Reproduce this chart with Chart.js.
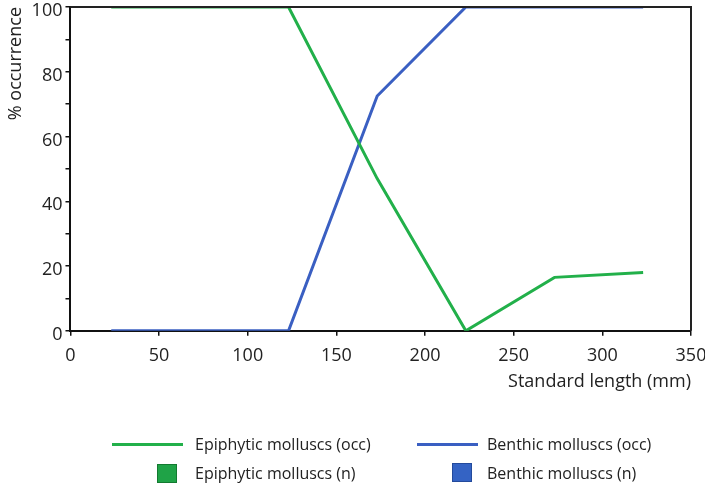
<!DOCTYPE html>
<html>
<head>
<meta charset="utf-8">
<script src="https://cdn.jsdelivr.net/npm/chart.js@4"></script>
<style>
  html, body { margin: 0; padding: 0; background: #fff; }
  #wrap { position: relative; width: 705px; height: 489px; }
  #c { position: absolute; left: 0; top: 0; }
  .lg { position: absolute; font-family: "Open Sans", sans-serif; font-size: 16px; line-height: 20px; color: #222; white-space: nowrap; }
  .ln { position: absolute; height: 3px; }
  .sq { position: absolute; width: 20px; height: 19px; box-sizing: border-box; }
</style>
</head>
<body>
<div id="wrap">
  <canvas id="c" width="705" height="489"></canvas>
  <div class="ln" style="left:112px;top:443px;width:71px;background:#22b04a;"></div>
  <div class="lg" style="left:195px;top:434px;">Epiphytic molluscs (occ)</div>
  <div class="ln" style="left:417px;top:443px;width:61px;background:#3a5fc2;"></div>
  <div class="lg" style="left:487px;top:434px;">Benthic molluscs (occ)</div>
  <div class="sq" style="left:157px;top:464px;background:#1fa347;border:1px solid #137a30;"></div>
  <div class="lg" style="left:195px;top:463px;">Epiphytic molluscs (n)</div>
  <div class="sq" style="left:452px;top:463px;background:#3463c4;border:1px solid #234a9c;"></div>
  <div class="lg" style="left:487px;top:463px;">Benthic molluscs (n)</div>
</div>
<script>
const lengths = [23, 123, 173, 223, 273, 323];
const epiphyticOcc = [100, 100, 47, 0, 16.5, 18];
const benthicOcc = [0, 0, 72.5, 100, 100, 100];
const yTickLabels = [0, 20, 40, 60, 80, 100];
const xTickLabels = [0, 50, 100, 150, 200, 250, 300, 350];

const boxPlugin = {
  id: 'box',
  afterDraw(chart) {
    const { ctx, chartArea: a } = chart;
    ctx.save();
    ctx.strokeStyle = '#222';
    ctx.lineWidth = 2;
    ctx.beginPath();
    ctx.moveTo(a.left, a.top);
    ctx.lineTo(a.right, a.top);
    ctx.lineTo(a.right, a.bottom);
    ctx.stroke();
    ctx.restore();
  }
};

const toPts = (xs, ys) => xs.map((x, i) => ({ x, y: ys[i] }));
const F = { family: 'Open Sans', size: 18 };

new Chart(document.getElementById('c'), {
  type: 'line',
  data: {
    datasets: [
      { label: 'Epiphytic molluscs (occ)', data: toPts(lengths, epiphyticOcc), borderColor: '#22b04a', borderWidth: 3, pointRadius: 0, fill: false, tension: 0 },
      { label: 'Benthic molluscs (occ)', data: toPts(lengths, benthicOcc), borderColor: '#3a5fc2', borderWidth: 3, pointRadius: 0, fill: false, tension: 0 }
    ]
  },
  options: {
    responsive: false,
    animation: false,
    layout: { padding: { top: 7, right: 14, bottom: 96, left: 5 } },
    plugins: { legend: { display: false }, tooltip: { enabled: false } },
    scales: {
      x: {
        type: 'linear', min: 0, max: 350,
        afterBuildTicks: (s) => { s.ticks = xTickLabels.map(v => ({ value: v })); },
        afterFit: (s) => { s.paddingRight = 0; s.paddingLeft = 0; },
        grid: { drawOnChartArea: false, drawTicks: true, tickLength: 5, color: '#111', lineWidth: 1.5 },
        border: { color: '#111', width: 2 },
        ticks: { color: '#222', font: F, padding: 9, maxRotation: 0 },
        title: { display: true, text: 'Standard length (mm)', align: 'end', color: '#222', font: F, padding: { top: -4, bottom: 0 } }
      },
      y: {
        min: 0, max: 100,
        afterFit: (s) => { s.paddingTop = 0; s.paddingBottom = 0; },
        ticks: { stepSize: 10, color: '#222', font: F, padding: 3, labelOffset: 4,
          callback: (v) => yTickLabels.includes(v) ? String(v) : '' },
        grid: { drawOnChartArea: false, drawTicks: true, tickLength: 5, color: '#111', lineWidth: 1.5 },
        border: { color: '#111', width: 2 },
        title: { display: true, text: '% occurrence', align: 'end', color: '#222', font: F, padding: { top: 0, bottom: 2 } }
      }
    }
  },
  plugins: [boxPlugin]
});
</script>
</body>
</html>
